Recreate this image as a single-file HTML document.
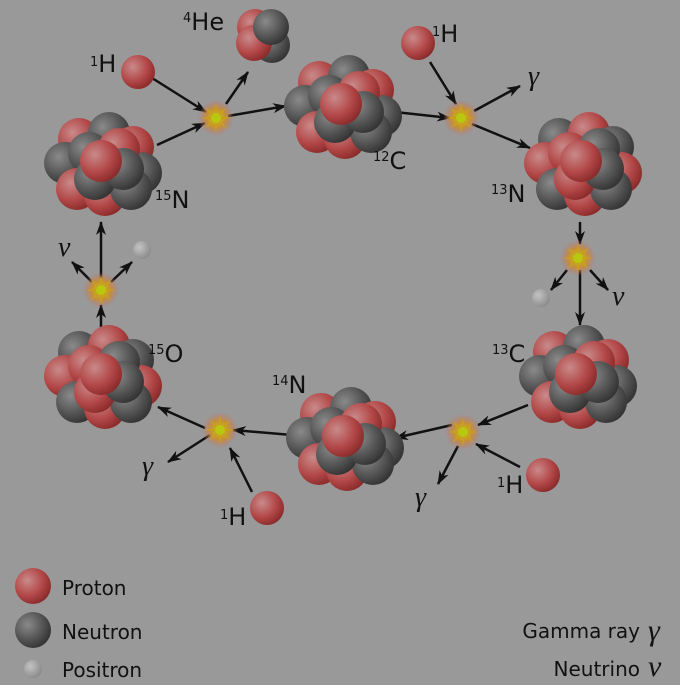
<!DOCTYPE html>
<html><head><meta charset="utf-8"><style>
html,body{margin:0;padding:0;background:#999;}
svg{display:block;}
text{font-family:"DejaVu Sans","Liberation Sans",sans-serif;fill:#111;}
.g{font-family:"Liberation Serif",serif;font-style:italic;}
</style></head><body>
<svg id="s" width="680" height="685" viewBox="0 0 680 685">
<defs>
<radialGradient id="gp" cx="0.35" cy="0.35" r="0.7"><stop offset="0" stop-color="#c98a8a"/><stop offset="0.6" stop-color="#b34848"/><stop offset="1" stop-color="#8a2a2a"/></radialGradient>
<radialGradient id="gn" cx="0.35" cy="0.35" r="0.7"><stop offset="0" stop-color="#8a8a8a"/><stop offset="0.6" stop-color="#555"/><stop offset="1" stop-color="#333"/></radialGradient>
<radialGradient id="ge" cx="0.35" cy="0.35" r="0.7"><stop offset="0" stop-color="#c4c4c4"/><stop offset="1" stop-color="#8a8a8a"/></radialGradient>
<radialGradient id="gs" cx="0.5" cy="0.5" r="0.5"><stop offset="0" stop-color="#d0d020"/><stop offset="0.5" stop-color="#c89030"/><stop offset="1" stop-color="#c07070" stop-opacity="0"/></radialGradient>
<marker id="ah" markerWidth="14" markerHeight="10" refX="13" refY="5" orient="auto" markerUnits="userSpaceOnUse"><path d="M0,0 L14,5 L0,10 L4,5 z" fill="#111"/></marker>
</defs>
<g id="arrows"></g>
<g id="nuclei"></g>
<g id="labels">
<text x="183" y="30" font-size="24"><tspan font-size="13" dy="-8">4</tspan><tspan dy="8">He</tspan></text>
<text x="90" y="72" font-size="24"><tspan font-size="13" dy="-6">1</tspan><tspan dy="6">H</tspan></text>
<text x="432" y="42" font-size="24"><tspan font-size="13" dy="-6">1</tspan><tspan dy="6">H</tspan></text>
<text x="373" y="169" font-size="24"><tspan font-size="13" dy="-8">12</tspan><tspan dy="8">C</tspan></text>
<text x="491" y="202" font-size="24"><tspan font-size="13" dy="-8">13</tspan><tspan dy="8">N</tspan></text>
<text x="492" y="362" font-size="24"><tspan font-size="13" dy="-8">13</tspan><tspan dy="8">C</tspan></text>
<text x="272" y="393" font-size="24"><tspan font-size="13" dy="-8">14</tspan><tspan dy="8">N</tspan></text>
<text x="148" y="362" font-size="24"><tspan font-size="13" dy="-8">15</tspan><tspan dy="8">O</tspan></text>
<text x="155" y="208" font-size="24"><tspan font-size="13" dy="-8">15</tspan><tspan dy="8">N</tspan></text>
<text x="497" y="493" font-size="24"><tspan font-size="13" dy="-6">1</tspan><tspan dy="6">H</tspan></text>
<text x="220" y="525" font-size="24"><tspan font-size="13" dy="-6">1</tspan><tspan dy="6">H</tspan></text>
<text class="g" x="528" y="85" font-size="28">γ</text>
<text class="g" x="612" y="305" font-size="28">ν</text>
<text class="g" x="415" y="506" font-size="28">γ</text>
<text class="g" x="142" y="475" font-size="28">γ</text>
<text class="g" x="58" y="256" font-size="28">ν</text>
<text x="62" y="595" font-size="20">Proton</text>
<text x="62" y="639" font-size="20">Neutron</text>
<text x="62" y="677" font-size="20">Positron</text>
<text x="640" y="638" font-size="20" text-anchor="end">Gamma ray</text>
<text class="g" x="648" y="640" font-size="30">γ</text>
<text x="640" y="676" font-size="20" text-anchor="end">Neutrino</text>
<text class="g" x="648" y="676" font-size="30">ν</text>
</g>
</svg>
<script>
const NS="http://www.w3.org/2000/svg";
const A=document.getElementById('arrows'),N=document.getElementById('nuclei');
function el(t,at,p){const e=document.createElementNS(NS,t);for(const k in at)e.setAttribute(k,at[k]);p.appendChild(e);return e;}
const arrows=[[157,145,205,123],[228,116,286,106],[226,104,248,72],[152,78,206,112],[395,112,450,118],[430,62,456,104],[474,111,520,86],[472,124,530,148],[580,222,580,244],[580,270,580,325],[590,270,608,290],[567,270,551,290],[528,405,478,425],[452,425,395,438],[458,446,438,484],[520,467,476,444],[292,435,233,430],[210,435,168,462],[252,492,230,448],[205,428,158,407],[101,327,101,305],[101,278,101,222],[111,282,132,262],[92,282,72,262]];
arrows.forEach((a,i)=>{const l=el('line',{x1:a[0],y1:a[1],x2:a[2],y2:a[3],stroke:'#111','stroke-width':2.5,'marker-end':'url(#ah)'},A);

});
const stars=[[216,118],[461,118],[578,258],[463,432],[220,430],[101,290]];
stars.forEach(s=>{const g=el('g',{transform:`translate(${s[0]},${s[1]})`},A);


el('circle',{r:18,fill:'url(#gs)'},g);
let d='';for(let i=0;i<16;i++){const r=i%2?5:15,an=i*Math.PI/8;d+=(i?'L':'M')+(r*Math.cos(an)).toFixed(1)+','+(r*Math.sin(an)).toFixed(1);}
el('path',{d:d+'z',fill:'#c8a020'},g);el('circle',{r:5,fill:'#b8c810'},g);});
function sphere(x,y,r,t,name){const c=el('circle',{cx:x,cy:y,r:r,fill:`url(#g${t})`},N);

}
const big=[[-24,-26,'p'],[6,-32,'n'],[30,-18,'p'],[-38,-2,'n'],[38,8,'n'],[-14,-12,'n'],[16,-16,'p'],[-26,24,'p'],[2,30,'p'],[28,24,'n'],[-8,14,'n'],[20,4,'n'],[-2,-4,'p']];
const big2=[[-24,-26,'n'],[6,-32,'p'],[30,-18,'n'],[-38,-2,'p'],[38,8,'p'],[-14,-12,'p'],[16,-16,'n'],[-26,24,'n'],[2,30,'p'],[28,24,'n'],[-8,14,'p'],[20,4,'n'],[-2,-4,'p']];
const nuclei=[[343,108,big,'carbon-12'],[583,165,big2,'nitrogen-13'],[578,378,big,'carbon-13'],[345,440,big,'nitrogen-14'],[103,378,big2,'oxygen-15'],[103,165,big,'nitrogen-15']];
nuclei.forEach(n=>n[2].forEach(o=>sphere(n[0]+o[0],n[1]+o[1],21,o[2],n[3]+'-nucleon')));
[[255,27,'p'],[272,45,'n'],[254,43,'p'],[271,27,'n']].forEach(o=>sphere(o[0],o[1],18,o[2],'helium-4-nucleon'));
[[138,72],[418,43],[543,475],[267,508]].forEach(p=>sphere(p[0],p[1],17,'p','hydrogen-proton'));
[[142,250],[541,298]].forEach(p=>sphere(p[0],p[1],9,'e','positron'));
sphere(33,586,18,'p','legend-proton-icon');sphere(33,630,18,'n','legend-neutron-icon');sphere(33,669,9,'e','legend-positron-icon');
</script>
</body></html>
